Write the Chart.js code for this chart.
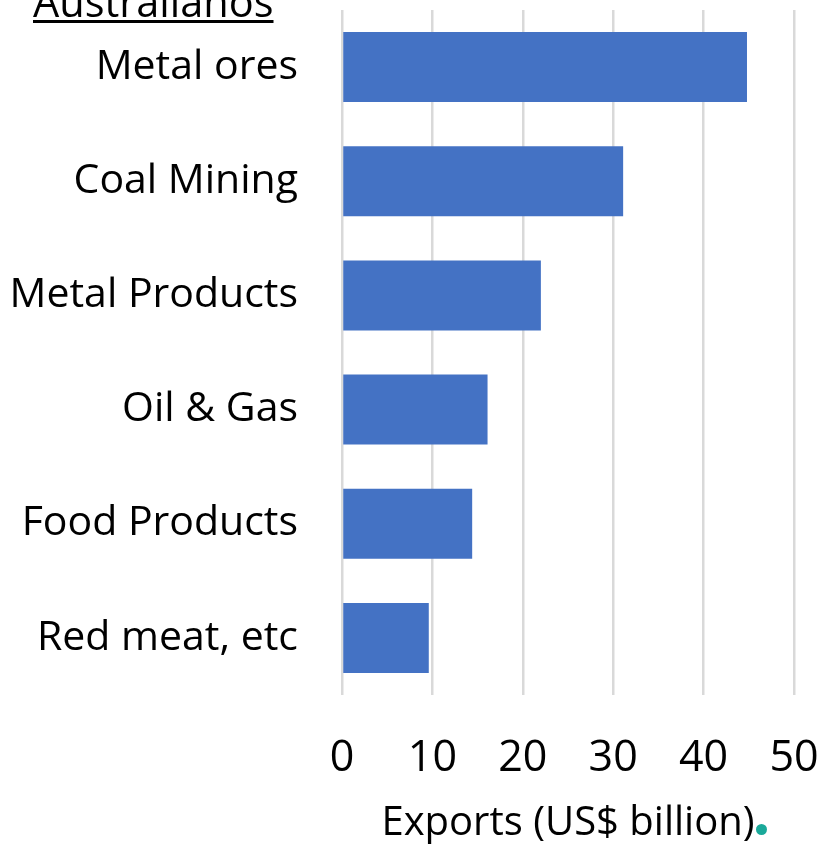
<!DOCTYPE html>
<html>
<head>
<meta charset="utf-8">
<script src="https://cdn.jsdelivr.net/npm/chart.js@4.4.1/dist/chart.umd.min.js"></script>
<style>
    html, body { margin: 0; padding: 0; background: #fff; overflow: hidden; }
    #wrap { position: relative; width: 822px; height: 844px; }
    #heading {
        position: absolute; left: 33px; top: -19px;
        font: 41.5px/40px "Open Sans", sans-serif; color: #000;
        text-decoration: underline; text-decoration-thickness: 3px; text-underline-offset: 3px;
    }
    #logo-dot {
        position: absolute; left: 756px; top: 824px; width: 11px; height: 11px;
        border-radius: 50%; background: #1aa99a;
    }
</style>
</head>
<body>
<div id="wrap">
    <canvas id="chart" width="822" height="844"></canvas>
    <div id="heading">Australianos</div>
    <div id="logo-dot"></div>
</div>
<script>
    // Data
    const categories = ['Metal ores', 'Coal Mining', 'Metal Products', 'Oil & Gas', 'Food Products', 'Red meat, etc'];
    const exportsValues = [44.8, 31.1, 22.0, 16.1, 14.4, 9.6];
    const xTicks = [0, 10, 20, 30, 40, 50];

    const FONT = '"Open Sans", sans-serif';

    // drop the label overhang so the plot area sits where the layout padding says
    function noOverhang(scale) {
        scale.paddingLeft = 0;
        scale.paddingRight = 0;
        scale.paddingTop = 0;
        scale.paddingBottom = 0;
    }

    new Chart(document.getElementById('chart').getContext('2d'), {
        type: 'bar',
        data: {
            labels: categories,
            datasets: [{
                label: 'Exports',
                data: exportsValues,
                backgroundColor: '#4472c4',
                borderWidth: 0,
                categoryPercentage: 1,
                barPercentage: 0.613
            }]
        },
        options: {
            indexAxis: 'y',
            responsive: false,
            animation: false,
            layout: { padding: { top: 10, right: 28, left: 0, bottom: 0 } },
            plugins: {
                legend: { display: false },
                tooltip: { enabled: false }
            },
            scales: {
                x: {
                    min: 0,
                    max: 50,
                    afterBuildTicks: scale => { scale.ticks = xTicks.map(v => ({ value: v })); },
                    afterFit: scale => { scale.height = 149; noOverhang(scale); },
                    border: { display: false },
                    grid: { color: '#d9d9d9', lineWidth: 2.5, drawTicks: false },
                    ticks: { color: '#000', padding: 38, font: { family: FONT, size: 43 } },
                    title: {
                        display: true,
                        text: 'Exports (US$ billion)',
                        color: '#000',
                        font: { family: FONT, size: 40 },
                        padding: { top: 4, bottom: -4 }
                    }
                },
                y: {
                    afterFit: scale => { scale.width = 342; noOverhang(scale); },
                    border: { display: false },
                    grid: { display: false, drawTicks: false },
                    ticks: { color: '#000', padding: 44, font: { family: FONT, size: 41 } }
                }
            }
        }
    });
</script>
</body>
</html>
